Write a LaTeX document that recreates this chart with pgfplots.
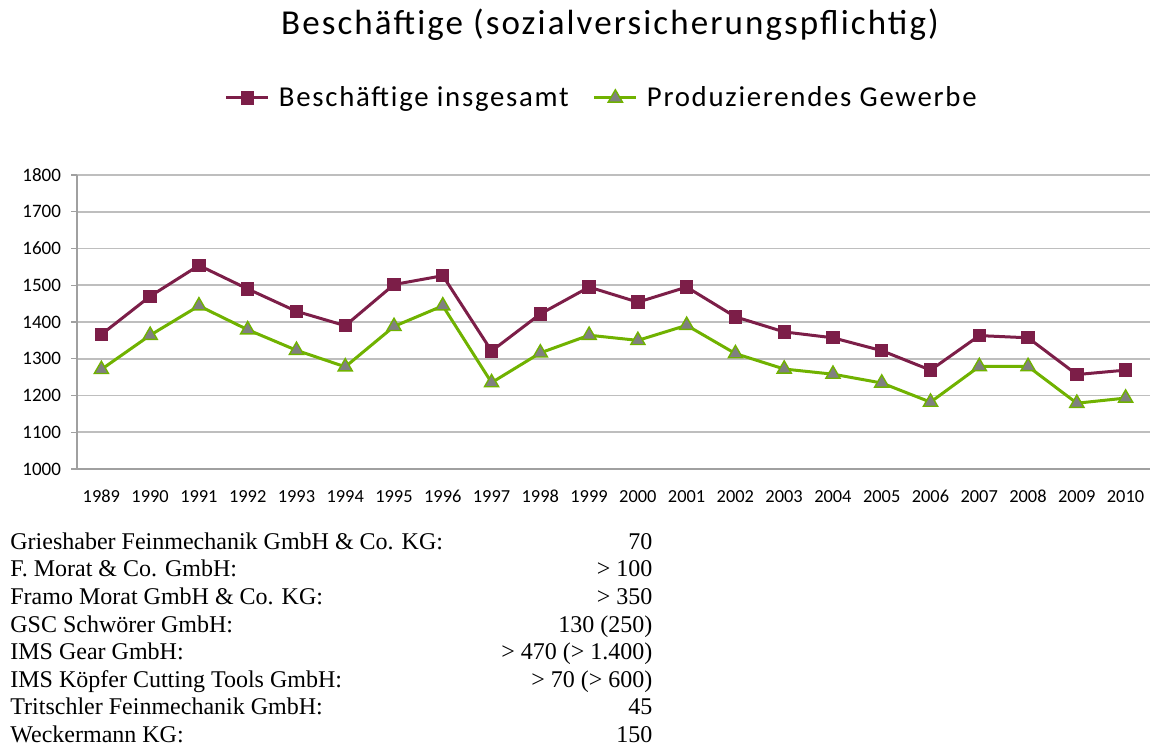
\documentclass[border=0pt]{standalone}
\usepackage{pgfplots}
\pgfplotsset{compat=1.18}
\usepackage{fontspec}
\setmainfont{Carlito}
\newfontfamily\carlito{Carlito}
\newfontfamily\spaced[LetterSpace=6]{Carlito}
\newfontfamily\timesf{Liberation Serif}
\definecolor{cpurple}{RGB}{124,30,72}
\definecolor{cgreen}{RGB}{112,178,0}
\definecolor{cgray}{RGB}{128,128,128}
\definecolor{gridc}{RGB}{190,190,190}
\definecolor{axc}{RGB}{160,160,160}
\begin{document}
\begin{tikzpicture}
\path[use as bounding box] (0pt,0pt) rectangle (575.5pt,-373.5pt);
\node[font=\spaced\fontsize{17.5}{20}\selectfont] at (305pt,-12.5pt) {Beschäftige (sozialversicherungspflichtig)};
\begin{axis}[
  at={(38.5pt,-234.5pt)}, anchor=south west,
  scale only axis, width=536.5pt, height=147pt,
  xmin=1988.5, xmax=2010.5, ymin=1000, ymax=1800,
  axis x line*=bottom, axis y line*=left,
  axis line style={draw=axc, line width=0.6pt},
  xtick={1989,...,2010},
  x tick label style={font=\carlito\fontsize{9.2}{11}\selectfont, yshift=-4pt},
  y tick label style={font=\carlito\fontsize{9.5}{11}\selectfont, xshift=-1.5pt},
  /pgf/number format/assume math mode=true,
  /pgf/number format/1000 sep={},
  xtick style={draw=none},
  extra x ticks={1988.5,1989.5,...,2010.5},
  extra x tick labels={},
  extra x tick style={tick style={draw=axc, line width=0.6pt}, major tick length=2.5pt, tick align=outside},
  ytick={1000,1100,...,1800},
  ytick style={draw=axc, line width=0.6pt},
  major tick length=3pt, tick align=outside,
  ymajorgrids, grid style={draw=gridc, line width=0.8pt},
  legend columns=2,
  legend style={at={(0.489,1.262)}, anchor=center, draw=none, fill=none,
    font=\spaced\fontsize{14.4}{16}\selectfont, column sep=3.5pt,
    nodes={inner xsep=1pt},
    /tikz/every even column/.append style={column sep=11pt}},
  legend image code/.code={\draw[mark repeat=2,mark phase=2] plot coordinates {(0cm,0cm)(0.37cm,0cm)(0.74cm,0cm)};},
]
\addplot[color=cpurple, line width=1.5pt, mark=square*, mark size=3.1pt, mark options={solid, fill=cpurple, draw=cpurple, line width=0.5pt}]
coordinates {
(1989,1366)(1990,1470)(1991,1554)(1992,1490)(1993,1429)(1994,1390)(1995,1502)(1996,1526)
(1997,1321)(1998,1422)(1999,1495)(2000,1454)(2001,1495)(2002,1414)(2003,1373)(2004,1357)
(2005,1322)(2006,1269)(2007,1363)(2008,1357)(2009,1257)(2010,1269)};
\addlegendentry{Beschäftige insgesamt}
\addplot[color=cgreen, line width=1.5pt, mark=triangle*, mark size=4.1pt, mark options={solid, fill=cgray, draw=cgreen, line width=0.7pt}]
coordinates {
(1989,1271)(1990,1364)(1991,1444)(1992,1379)(1993,1323)(1994,1278)(1995,1388)(1996,1444)
(1997,1235)(1998,1316)(1999,1364)(2000,1350)(2001,1391)(2002,1314)(2003,1272)(2004,1258)
(2005,1234)(2006,1182)(2007,1279)(2008,1279)(2009,1179)(2010,1193)};
\addlegendentry{Produzierendes Gewerbe}
\end{axis}
\node[anchor=north west, inner sep=0pt, font=\timesf\fontsize{12}{13.8}\selectfont] at (5pt,-264.8pt) {%
\begin{tabular*}{321pt}{@{}l@{\extracolsep{\fill}}r@{}}
Grieshaber Feinmechanik GmbH \& Co. KG: & 70\\
F. Morat \& Co. GmbH: & > 100\\
Framo Morat GmbH \& Co. KG: & > 350\\
GSC Schwörer GmbH: & 130 (250)\\
IMS Gear GmbH: & > 470 (> 1.400)\\
IMS Köpfer Cutting Tools GmbH: & > 70 (> 600)\\
Tritschler Feinmechanik GmbH: & 45\\
Weckermann KG: & 150
\end{tabular*}};
\end{tikzpicture}
\end{document}
